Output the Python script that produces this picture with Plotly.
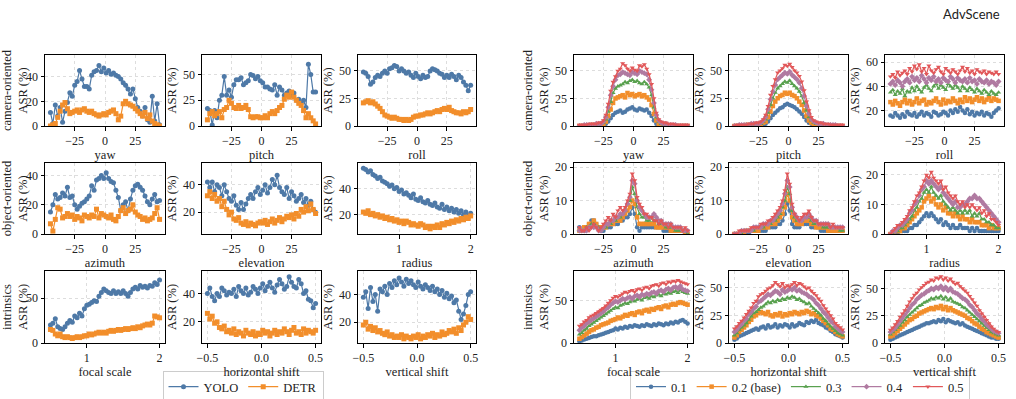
import numpy as np
import plotly.graph_objects as go

# ---------------- x positions ----------------
ang = list(range(-45, 46, 2))
scale = [round(v, 4) for v in np.linspace(0.5, 2.0, 46)]
shift = [round(v, 4) for v in np.linspace(-0.5, 0.5, 46)]

# ---------------- left group: YOLO / DETR ----------------
yolo_yaw = [11, 2, 17, 8, 15, 3, 12, 19, 27, 24, 33, 36, 45, 38, 32, 32, 30, 41, 44, 45, 49, 44, 47,
            43, 45, 42, 43, 41, 40, 38, 35, 33, 30, 26, 30, 22, 15, 12, 8, 15, 5, 3, 24, 4, 18, 1]
detr_yaw = [0, 1, 2, 7, 12, 17, 19, 14, 10, 11, 12, 13, 11, 13, 14, 12, 11, 12, 10, 9, 8, 9, 10,
            9, 11, 12, 13, 10, 5, 8, 18, 20, 18, 17, 16, 14, 12, 10, 8, 11, 6, 9, 4, 2, 1, 0]
yolo_pitch = [17, 15, 1, 15, 8, 25, 30, 48, 30, 35, 28, 40, 45, 45, 47, 40, 42, 44, 50, 49, 46, 48, 44,
              42, 38, 38, 36, 35, 40, 30, 38, 35, 30, 32, 34, 30, 32, 25, 26, 22, 25, 18, 60, 50, 33, 33]
detr_pitch = [6, 12, 14, 10, 12, 14, 8, 16, 18, 25, 22, 18, 17, 20, 17, 18, 20, 16, 9, 8, 9, 9, 8,
              8, 10, 8, 12, 14, 12, 15, 18, 20, 26, 30, 28, 33, 28, 25, 22, 20, 15, 8, 12, 8, 5, 2]
yolo_roll = [49, 48, 45, 38, 40, 44, 46, 45, 48, 50, 48, 52, 53, 55, 54, 50, 52, 50, 48, 49, 46, 44, 48,
             45, 43, 46, 44, 45, 50, 52, 51, 50, 48, 47, 44, 46, 44, 47, 45, 42, 46, 44, 40, 37, 32, 37]
detr_roll = [21, 22, 23, 21, 22, 20, 18, 16, 13, 10, 9, 8, 7, 8, 7, 6, 6, 5, 6, 5, 6, 8, 9,
             9, 10, 10, 11, 12, 11, 12, 13, 14, 13, 15, 16, 15, 17, 14, 13, 12, 12, 11, 13, 12, 13, 15]
yolo_azimuth = [15, 20, 27, 24, 25, 28, 26, 32, 25, 26, 20, 17, 19, 21, 22, 24, 26, 33, 30, 37, 38, 40, 38,
                42, 38, 36, 35, 30, 25, 16, 20, 22, 16, 24, 30, 33, 34, 32, 30, 26, 22, 20, 24, 27, 22, 23]
detr_azimuth = [7, 2, 10, 18, 17, 11, 12, 14, 12, 13, 10, 12, 11, 9, 13, 12, 11, 13, 12, 17, 11, 14, 13,
                12, 11, 13, 10, 9, 12, 16, 18, 14, 16, 17, 20, 15, 13, 12, 10, 11, 9, 10, 11, 14, 18, 10]
yolo_elevation = [42, 38, 42, 35, 40, 38, 32, 40, 35, 30, 28, 32, 25, 22, 27, 22, 26, 30, 33, 30, 35, 38, 33,
                  36, 40, 34, 38, 44, 40, 47, 38, 35, 33, 38, 30, 35, 32, 28, 30, 33, 27, 30, 25, 28, 22, 20]
detr_elevation = [32, 35, 30, 33, 28, 30, 24, 28, 22, 18, 20, 15, 14, 16, 12, 11, 13, 10, 12, 11, 10, 12, 13,
                  12, 14, 11, 13, 15, 12, 14, 16, 13, 15, 17, 16, 18, 15, 19, 17, 22, 20, 24, 21, 26, 22, 19]
yolo_radius = [56, 55, 53, 54, 51, 50, 48, 49, 46, 45, 44, 42, 43, 40, 41, 38, 39, 36, 37, 35, 33, 36, 32,
               31, 33, 30, 29, 31, 28, 27, 29, 26, 25, 28, 24, 26, 23, 25, 22, 24, 21, 23, 20, 22, 19, 21]
detr_radius = [22, 21, 23, 20, 21, 19, 20, 18, 19, 17, 18, 16, 17, 15, 16, 14, 15, 13, 15, 14, 12, 13, 12,
               11, 13, 12, 10, 11, 9, 11, 10, 12, 10, 13, 12, 14, 13, 15, 14, 16, 15, 17, 16, 18, 17, 19]
yolo_focal = [20, 22, 27, 18, 16, 15, 18, 22, 25, 23, 30, 28, 33, 30, 38, 42, 43, 45, 47, 46, 52, 56, 60,
              58, 56, 55, 58, 55, 57, 55, 58, 55, 52, 56, 60, 62, 60, 64, 62, 63, 61, 64, 63, 67, 65, 70]
detr_focal = [15, 14, 10, 8, 10, 7, 6, 7, 6, 5, 6, 7, 6, 7, 8, 8, 10, 9, 10, 11, 12, 11, 12,
              11, 13, 14, 13, 14, 15, 14, 15, 16, 15, 16, 17, 16, 18, 17, 19, 20, 21, 20, 22, 30, 29, 28]
yolo_hshift = [40, 44, 38, 35, 40, 38, 44, 42, 39, 41, 40, 43, 38, 45, 42, 40, 44, 39, 41, 45, 43, 40, 44,
               47, 42, 45, 48, 44, 41, 46, 50, 47, 43, 45, 52, 48, 45, 44, 50, 47, 40, 42, 36, 35, 30, 33]
detr_hshift = [26, 22, 24, 19, 20, 16, 15, 17, 13, 14, 12, 15, 11, 13, 12, 10, 14, 12, 11, 13, 10, 12, 11,
               14, 12, 13, 10, 12, 14, 11, 13, 12, 15, 13, 11, 14, 16, 12, 13, 11, 15, 12, 14, 13, 12, 14]
yolo_vshift = [38, 42, 30, 45, 35, 40, 28, 44, 42, 46, 40, 48, 45, 50, 47, 52, 49, 46, 51, 48, 50, 47, 45,
               49, 46, 44, 47, 45, 43, 46, 42, 44, 40, 43, 38, 41, 37, 39, 34, 36, 28, 22, 26, 32, 40, 42]
detr_vshift = [18, 20, 15, 17, 14, 16, 13, 14, 12, 11, 13, 10, 11, 9, 10, 9, 11, 8, 10, 9, 8, 10, 9,
               11, 8, 10, 9, 11, 10, 12, 9, 11, 10, 13, 11, 12, 14, 13, 15, 12, 16, 14, 18, 20, 24, 22]

# ---------------- right group: ratios 0.1 .. 0.5 ----------------
r1_yaw = [0]*10 + [1, 2, 4, 7, 10, 12, 13, 14, 12, 13, 15, 16, 17, 15, 14, 16, 15, 14, 15, 12, 9, 5, 2, 1, 0, 0] + [0]*10
r2_yaw = [0, 0, 0, 0, 0, 1, 1, 1, 1, 1, 2, 4, 9, 15, 21, 25, 26, 27, 28, 26, 30, 28, 29, 27, 28, 29, 27, 28,
          26, 24, 19, 11, 5, 2, 1, 1] + [0]*10
r3_yaw = [0, 0, 0, 1, 1, 1, 1, 1, 1, 2, 3, 6, 13, 22, 30, 34, 36, 37, 38, 40, 39, 41, 42, 40, 41, 39, 38, 40,
          38, 35, 28, 17, 8, 4, 2, 1, 1, 1, 1, 0, 0, 0, 0, 0, 0, 0]
r4_yaw = [0, 0, 1, 1, 1, 1, 1, 2, 2, 2, 4, 8, 17, 28, 36, 42, 46, 47, 49, 48, 47, 46, 49, 48, 47, 50, 49, 48,
          47, 42, 33, 21, 10, 5, 3, 2, 2, 1, 1, 1, 1, 0, 0, 0, 0, 0]
r5_yaw = [1, 1, 1, 1, 2, 2, 2, 2, 3, 3, 5, 10, 20, 32, 40, 45, 50, 52, 57, 55, 52, 50, 53, 51, 50, 55, 54, 56,
          52, 47, 38, 25, 12, 6, 4, 3, 3, 2, 2, 2, 1, 1, 1, 1, 1, 1]

r1_pitch = [0]*12 + [1, 2, 4, 7, 10, 12, 14, 16, 17, 19, 20, 19, 18, 17, 15, 13, 11, 8, 5, 3, 2, 1, 1, 0] + [0]*10
r2_pitch = [0, 0, 0, 0, 0, 1, 1, 1, 1, 1, 1, 1, 3, 4, 8, 13, 18, 22, 25, 27, 28, 30, 29, 30, 28, 27, 25, 22,
            19, 14, 9, 5, 3, 2, 1, 1, 1, 0] + [0]*8
r3_pitch = [0, 0, 0, 1, 1, 1, 1, 1, 1, 2, 2, 2, 4, 6, 12, 19, 25, 30, 34, 36, 38, 40, 39, 41, 38, 36, 34, 31,
            27, 21, 14, 8, 5, 3, 2, 2, 1, 1, 1, 1, 0, 0, 0, 0, 0, 0]
r4_pitch = [0, 0, 1, 1, 1, 1, 1, 2, 2, 2, 2, 3, 5, 8, 15, 24, 31, 37, 42, 44, 46, 48, 47, 49, 46, 44, 42, 39,
            34, 27, 18, 11, 6, 4, 3, 2, 2, 2, 1, 1, 1, 1, 1, 0, 0, 0]
r5_pitch = [0, 1, 1, 1, 1, 1, 2, 2, 2, 3, 3, 4, 6, 10, 18, 28, 36, 42, 48, 50, 52, 55, 54, 56, 53, 50, 48, 45,
            40, 32, 22, 14, 8, 5, 4, 3, 3, 2, 2, 2, 1, 1, 1, 1, 1, 1]

r1_roll = [16, 15, 18, 16, 14, 17, 15, 19, 17, 16, 18, 15, 17, 19, 16, 18, 17, 15, 19, 18, 16, 17, 19,
           18, 16, 20, 18, 21, 19, 23, 20, 18, 21, 17, 19, 16, 18, 17, 19, 16, 18, 17, 15, 18, 20, 22]
r2_roll = [27, 25, 28, 26, 24, 27, 29, 26, 28, 25, 27, 30, 26, 28, 29, 25, 27, 26, 28, 30, 27, 25, 29,
           26, 28, 27, 30, 28, 26, 29, 27, 31, 28, 30, 27, 29, 31, 28, 30, 27, 29, 31, 28, 30, 29, 28]
r3_roll = [35, 37, 33, 36, 34, 38, 32, 36, 35, 39, 36, 40, 37, 35, 39, 41, 38, 36, 40, 42, 38, 41, 39,
           37, 42, 40, 38, 41, 39, 36, 40, 38, 36, 39, 37, 35, 38, 36, 34, 37, 35, 33, 36, 34, 33, 35]
r4_roll = [42, 44, 41, 45, 43, 40, 44, 46, 43, 48, 45, 47, 44, 49, 46, 43, 47, 45, 48, 44, 46, 43, 47,
           45, 44, 48, 46, 43, 47, 45, 44, 46, 43, 47, 44, 45, 42, 46, 44, 43, 45, 42, 44, 43, 41, 44]
r5_roll = [48, 50, 47, 52, 49, 51, 53, 50, 55, 52, 57, 54, 58, 52, 55, 50, 57, 53, 51, 54, 56, 52, 50,
           55, 53, 51, 54, 52, 50, 53, 56, 52, 55, 51, 53, 50, 54, 52, 51, 53, 50, 52, 51, 50, 52, 50]

r1_azimuth = [2, 1, 1, 2, 3, 4, 4, 3, 2, 1, 1, 2, 2, 2, 3, 3, 3, 4, 4, 5, 5, 6, 8,
              6, 2, 1, 2, 2, 2, 2, 2, 2, 2, 2, 2, 1, 1, 1, 1, 1, 1, 1, 1, 1, 0, 0]
r2_azimuth = [1, 1, 2, 2, 3, 3, 4, 3, 2, 2, 2, 2, 3, 3, 3, 4, 4, 4, 5, 6, 7, 8, 10,
              9, 5, 3, 3, 3, 3, 3, 3, 3, 2, 2, 2, 2, 2, 2, 1, 1, 1, 1, 1, 1, 0, 0]
r3_azimuth = [1, 1, 1, 2, 2, 3, 3, 2, 2, 1, 2, 2, 3, 3, 4, 4, 5, 5, 6, 7, 9, 10, 14,
              12, 8, 6, 5, 5, 4, 4, 5, 4, 4, 3, 3, 3, 2, 2, 2, 2, 1, 1, 1, 1, 1, 0]
r4_azimuth = [1, 1, 1, 1, 2, 2, 2, 2, 1, 1, 2, 3, 3, 4, 4, 5, 5, 6, 6, 7, 9, 11, 16,
              15, 10, 8, 7, 6, 5, 5, 5, 6, 5, 4, 4, 3, 3, 3, 3, 2, 2, 2, 2, 1, 1, 1]
r5_azimuth = [2, 1, 1, 2, 1, 2, 3, 2, 1, 2, 3, 4, 5, 4, 6, 5, 7, 8, 7, 8, 10, 12, 18,
              16, 11, 9, 8, 6, 6, 5, 5, 4, 4, 3, 4, 3, 3, 2, 3, 2, 2, 2, 2, 1, 2, 1]

r1_elevation = [0, 0, 0, 0, 0, 0, 0, 1, 1, 1, 1, 1, 1, 1, 2, 2, 2, 2, 3, 3, 4, 6, 9,
                7, 3, 2, 2, 2, 3, 3, 3, 3, 2, 2, 2, 2, 1, 1, 1, 1, 1, 1, 1, 1, 1, 1]
r2_elevation = [0, 0, 0, 0, 0, 1, 1, 1, 1, 1, 1, 2, 2, 2, 2, 3, 3, 3, 4, 5, 6, 8, 12,
                10, 5, 4, 3, 3, 3, 4, 4, 4, 3, 3, 2, 2, 2, 2, 2, 1, 1, 1, 1, 1, 1, 1]
r3_elevation = [0, 0, 0, 0, 1, 1, 1, 1, 1, 2, 2, 2, 2, 3, 3, 3, 4, 4, 5, 6, 8, 10, 14,
                12, 7, 5, 4, 4, 4, 5, 5, 5, 4, 3, 3, 3, 3, 2, 2, 2, 2, 2, 2, 2, 1, 1]
r4_elevation = [0, 0, 0, 1, 1, 1, 1, 1, 2, 2, 2, 2, 3, 3, 3, 4, 4, 5, 6, 7, 9, 12, 16,
                14, 8, 6, 5, 4, 4, 5, 5, 6, 5, 4, 4, 3, 3, 3, 3, 3, 2, 2, 2, 2, 2, 2]
r5_elevation = [0, 0, 1, 1, 1, 1, 1, 2, 2, 2, 2, 3, 3, 3, 4, 4, 5, 6, 7, 8, 10, 13, 18,
                15, 9, 6, 5, 4, 5, 6, 6, 7, 5, 4, 4, 3, 3, 3, 3, 3, 2, 3, 2, 2, 2, 2]

r1_radius = [0, 0, 0, 0, 1, 1, 1, 1, 2, 2, 3, 3, 4, 5, 6, 7, 6, 7, 6, 5, 4, 5, 3,
             4, 3, 2, 3, 2, 2, 3, 2, 2, 2, 1, 2, 1, 2, 1, 1, 1, 1, 1, 1, 1, 1, 1]
r2_radius = [0, 0, 1, 1, 1, 2, 2, 3, 4, 5, 6, 7, 8, 9, 11, 12, 13, 11, 12, 10, 9, 10, 8,
             9, 7, 7, 6, 7, 6, 5, 6, 5, 5, 4, 5, 4, 4, 4, 3, 3, 3, 2, 3, 2, 2, 2]
r3_radius = [0, 0, 1, 1, 2, 2, 3, 4, 5, 6, 8, 9, 11, 12, 14, 15, 14, 16, 14, 13, 12, 13, 11,
             10, 9, 8, 9, 8, 7, 8, 7, 8, 7, 8, 6, 7, 6, 7, 5, 5, 4, 4, 3, 3, 2, 2]
r4_radius = [0, 1, 1, 2, 3, 3, 4, 5, 7, 8, 10, 11, 13, 15, 16, 18, 17, 18, 17, 16, 15, 16, 14,
             13, 12, 11, 10, 11, 9, 9, 10, 10, 11, 12, 12, 13, 12, 12, 11, 10, 9, 8, 7, 6, 5, 4]
r5_radius = [0, 1, 2, 3, 3, 4, 5, 6, 8, 9, 11, 13, 14, 16, 18, 20, 19, 21, 19, 18, 17, 18, 15,
             16, 14, 13, 12, 13, 11, 10, 11, 9, 10, 9, 10, 9, 8, 9, 7, 8, 6, 7, 5, 5, 4, 3]

r1_focal = [2, 3, 4, 5, 6, 7, 8, 8, 9, 10, 11, 12, 13, 14, 15, 17, 16, 18, 17, 19, 18, 20, 19,
            21, 20, 19, 21, 20, 22, 21, 20, 22, 21, 23, 22, 21, 23, 22, 24, 23, 25, 24, 26, 27, 25, 23]
r2_focal = [5, 7, 9, 11, 13, 15, 16, 18, 19, 21, 22, 23, 24, 26, 27, 28, 30, 29, 31, 33, 32, 34, 35,
            33, 36, 37, 35, 38, 39, 37, 40, 39, 41, 42, 40, 43, 44, 42, 45, 46, 45, 47, 48, 47, 46, 45]
r3_focal = [10, 12, 15, 17, 20, 22, 24, 26, 28, 30, 32, 34, 36, 38, 40, 42, 41, 44, 45, 47, 46, 48, 50,
            49, 51, 52, 50, 53, 54, 52, 55, 54, 56, 57, 55, 58, 57, 59, 58, 60, 61, 59, 62, 60, 59, 58]
r4_focal = [15, 18, 20, 23, 25, 27, 29, 31, 33, 35, 37, 40, 42, 45, 47, 49, 48, 50, 52, 51, 53, 54, 52,
            55, 56, 54, 57, 56, 58, 57, 59, 60, 58, 61, 62, 60, 63, 64, 62, 65, 66, 64, 67, 63, 62, 61]
r5_focal = [20, 22, 25, 27, 30, 32, 33, 35, 37, 39, 41, 44, 47, 50, 53, 55, 54, 56, 58, 60, 59, 61, 62,
            60, 63, 64, 62, 65, 66, 64, 67, 68, 69, 67, 70, 71, 69, 72, 71, 73, 72, 74, 72, 71, 70, 69]

r1_hshift = [3, 4, 6, 7, 8, 9, 10, 11, 12, 13, 12, 14, 15, 13, 16, 14, 15, 17, 14, 16, 15, 17, 16,
             14, 17, 15, 16, 18, 17, 16, 19, 18, 20, 19, 21, 18, 17, 16, 14, 13, 11, 10, 8, 7, 6, 5]
r2_hshift = [5, 7, 10, 12, 14, 16, 19, 21, 24, 25, 27, 28, 27, 26, 28, 25, 24, 26, 25, 27, 24, 26, 25,
             27, 26, 28, 27, 26, 28, 27, 29, 28, 26, 27, 25, 24, 22, 20, 18, 16, 13, 12, 10, 8, 7, 6]
r3_hshift = [7, 9, 12, 14, 16, 18, 21, 24, 27, 28, 30, 32, 33, 35, 37, 36, 38, 37, 39, 38, 40, 39, 41,
             40, 42, 41, 39, 40, 38, 37, 35, 36, 33, 31, 29, 27, 25, 22, 20, 17, 15, 13, 11, 9, 8, 7]
r4_hshift = [10, 12, 15, 17, 20, 22, 26, 28, 31, 33, 37, 38, 40, 42, 44, 43, 45, 47, 46, 44, 48, 46, 47,
             49, 48, 50, 47, 48, 46, 45, 44, 42, 41, 39, 36, 34, 31, 28, 26, 23, 20, 18, 15, 13, 11, 10]
r5_hshift = [13, 15, 18, 20, 23, 26, 29, 32, 36, 38, 42, 44, 45, 47, 49, 50, 52, 55, 53, 51, 54, 50, 52,
             51, 53, 55, 52, 54, 53, 51, 49, 50, 47, 45, 43, 40, 38, 34, 31, 28, 25, 22, 18, 16, 14, 12]

r1_vshift = [3, 4, 5, 6, 7, 8, 9, 10, 11, 12, 13, 14, 15, 16, 17, 18, 18, 19, 20, 19, 21, 20, 22,
             19, 21, 20, 19, 18, 19, 17, 18, 16, 15, 14, 13, 12, 11, 10, 9, 8, 7, 6, 5, 5, 4, 4]
r2_vshift = [6, 7, 9, 11, 13, 15, 17, 19, 21, 22, 24, 25, 27, 28, 29, 30, 31, 32, 31, 33, 32, 34, 31,
             33, 30, 32, 30, 29, 28, 27, 26, 25, 23, 22, 20, 18, 17, 15, 13, 12, 10, 9, 8, 7, 6, 5]
r3_vshift = [8, 10, 12, 14, 16, 19, 21, 24, 26, 28, 30, 32, 34, 35, 37, 38, 39, 41, 40, 42, 41, 43, 40,
             42, 39, 41, 38, 37, 36, 35, 33, 32, 30, 28, 26, 24, 22, 20, 18, 16, 14, 12, 10, 9, 8, 7]
r4_vshift = [10, 12, 14, 17, 20, 23, 26, 29, 32, 35, 37, 40, 42, 44, 45, 47, 48, 50, 49, 51, 50, 52, 49,
             51, 48, 50, 47, 46, 45, 43, 41, 40, 38, 35, 33, 30, 27, 25, 22, 20, 17, 15, 13, 11, 10, 9]
r5_vshift = [12, 14, 17, 20, 24, 27, 30, 34, 38, 41, 44, 46, 49, 51, 53, 55, 56, 58, 57, 60, 59, 61, 58,
             60, 57, 59, 56, 54, 55, 52, 50, 48, 46, 43, 40, 37, 34, 30, 27, 24, 21, 18, 15, 13, 11, 10]

# ---------------- labels ----------------
left_names = ["YOLO", "DETR"]
right_names = ["0.1", "0.2 (base)", "0.3", "0.4", "0.5"]
row_prefix = ["camera-oriented", "object-oriented", "intrinsics"]
x_labels = [["yaw", "pitch", "roll"], ["azimuth", "elevation", "radius"],
            ["focal scale", "horizontal shift", "vertical shift"]]

# ---------------- styling ----------------
C_BLUE, C_ORANGE, C_GREEN, C_PINK, C_RED = "#4e79a7", "#f28e2b", "#59a14f", "#b07aa1", "#e15759"
left_style = [(C_BLUE, "circle"), (C_ORANGE, "square")]
right_style = [(C_BLUE, "circle"), (C_ORANGE, "square"), (C_GREEN, "triangle-up"),
               (C_PINK, "diamond"), (C_RED, "triangle-down")]

W, H = 1016, 399
left_cols = [(45, 165), (202, 321), (358, 476)]
right_cols = [(574, 693), (729, 848), (885, 1004)]
rows_px = [(55, 126), (163, 234), (271, 343)]

x_sets = [[ang, ang, ang], [ang, ang, scale], [scale, shift, shift]]

left_data = [[(yolo_yaw, detr_yaw), (yolo_pitch, detr_pitch), (yolo_roll, detr_roll)],
             [(yolo_azimuth, detr_azimuth), (yolo_elevation, detr_elevation), (yolo_radius, detr_radius)],
             [(yolo_focal, detr_focal), (yolo_hshift, detr_hshift), (yolo_vshift, detr_vshift)]]
right_data = [[(r1_yaw, r2_yaw, r3_yaw, r4_yaw, r5_yaw),
               (r1_pitch, r2_pitch, r3_pitch, r4_pitch, r5_pitch),
               (r1_roll, r2_roll, r3_roll, r4_roll, r5_roll)],
              [(r1_azimuth, r2_azimuth, r3_azimuth, r4_azimuth, r5_azimuth),
               (r1_elevation, r2_elevation, r3_elevation, r4_elevation, r5_elevation),
               (r1_radius, r2_radius, r3_radius, r4_radius, r5_radius)],
              [(r1_focal, r2_focal, r3_focal, r4_focal, r5_focal),
               (r1_hshift, r2_hshift, r3_hshift, r4_hshift, r5_hshift),
               (r1_vshift, r2_vshift, r3_vshift, r4_vshift, r5_vshift)]]

left_yr = [[([0, 57.5], [0, 20, 40]), ([0, 69], [0, 25, 50]), ([0, 64.5], [0, 25, 50])],
           [([0, 48.6], [0, 20, 40]), ([4, 56], [20, 40]), ([5, 60], [20, 40])],
           [([0, 80], [0, 50]), ([5, 56], [20, 40]), ([5, 57], [20, 40])]]
right_yr = [[([0, 64.5], [0, 25, 50]), ([0, 64], [0, 25, 50]), ([7.3, 65.8], [20, 40, 60])],
            [([0, 21.2], [0, 10, 20]), ([0, 21.2], [0, 10, 20]), ([0, 24], [0, 10, 20])],
            [([0, 84.6], [0, 50]), ([0, 65], [0, 25, 50]), ([0, 66], [0, 25, 50])]]

SERIF = "Liberation Serif"
fig = go.Figure()


def x_axis_cfg(r, c):
    if r == 0 or (r == 1 and c < 2):
        return dict(range=[-49.5, 49.5], tickvals=[-25, 0, 25])
    if (r == 1 and c == 2) or (r == 2 and c == 0):
        return dict(range=[0.425, 2.075], tickvals=[1, 2])
    return dict(range=[-0.55, 0.55], tickvals=[-0.5, 0.0, 0.5], tickformat=".1f")


idx = 0
for g, (cols, data, yrs, names, styles, leg, msize) in enumerate([
        (left_cols, left_data, left_yr, left_names, left_style, "legend", 5),
        (right_cols, right_data, right_yr, right_names, right_style, "legend2", 4.5)]):
    for r in range(3):
        for c in range(3):
            idx += 1
            xa = "x" if idx == 1 else f"x{idx}"
            ya = "y" if idx == 1 else f"y{idx}"
            xs = x_sets[r][c]
            for k, ys in enumerate(data[r][c]):
                col, sym = styles[k]
                fig.add_trace(go.Scatter(
                    x=xs, y=ys, mode="lines+markers", name=names[k],
                    xaxis=xa, yaxis=ya, legend=leg,
                    showlegend=(r == 0 and c == 0),
                    line=dict(color=col, width=1.2),
                    marker=dict(symbol=sym, size=msize, color=col, line=dict(width=0))))
            x0, x1 = cols[c]
            y0, y1 = rows_px[r]
            common = dict(showline=True, linecolor="black", linewidth=1, mirror=True,
                          ticks="outside", ticklen=3.5, tickwidth=1, tickcolor="black",
                          showgrid=True, gridcolor="#dddddd", griddash="dot", gridwidth=1,
                          zeroline=False, automargin=False,
                          tickfont=dict(family=SERIF, size=12, color="#222"))
            xcfg = x_axis_cfg(r, c)
            yr, yt = yrs[r][c]
            ytitle = ("%s<br>ASR (%%)" % row_prefix[r]) if c == 0 else "ASR (%)"
            fig.layout["xaxis" if idx == 1 else f"xaxis{idx}"] = dict(
                domain=[x0 / W, x1 / W], anchor=ya,
                title=dict(text=x_labels[r][c], font=dict(family=SERIF, size=12.5, color="#222"), standoff=2),
                **xcfg, **common)
            fig.layout["yaxis" if idx == 1 else f"yaxis{idx}"] = dict(
                domain=[1 - y1 / H, 1 - y0 / H], anchor=xa, range=yr, tickvals=yt,
                title=dict(text=ytitle, font=dict(family=SERIF, size=12.5, color="#222"), standoff=3),
                **common)

fig.add_annotation(text="AdvScene", x=1 - 14 / W, y=1 - 4 / H, xref="paper", yref="paper",
                   xanchor="right", yanchor="top", showarrow=False,
                   font=dict(family="Lato", size=13, color="#222"))

legend_common = dict(orientation="h", yanchor="top", y=1 - 371 / H, xanchor="center",
                     bordercolor="#cccccc", borderwidth=1, bgcolor="white",
                     font=dict(family=SERIF, size=12.5, color="#222"), itemwidth=30,
                     tracegroupgap=0)
fig.update_layout(
    width=W, height=H, autosize=False,
    margin=dict(l=0, r=0, t=0, b=0, autoexpand=False),
    paper_bgcolor="white", plot_bgcolor="white",
    legend=dict(x=243 / W, **legend_common),
    legend2=dict(x=800 / W, **legend_common),
)

fig.write_html("out.html")
